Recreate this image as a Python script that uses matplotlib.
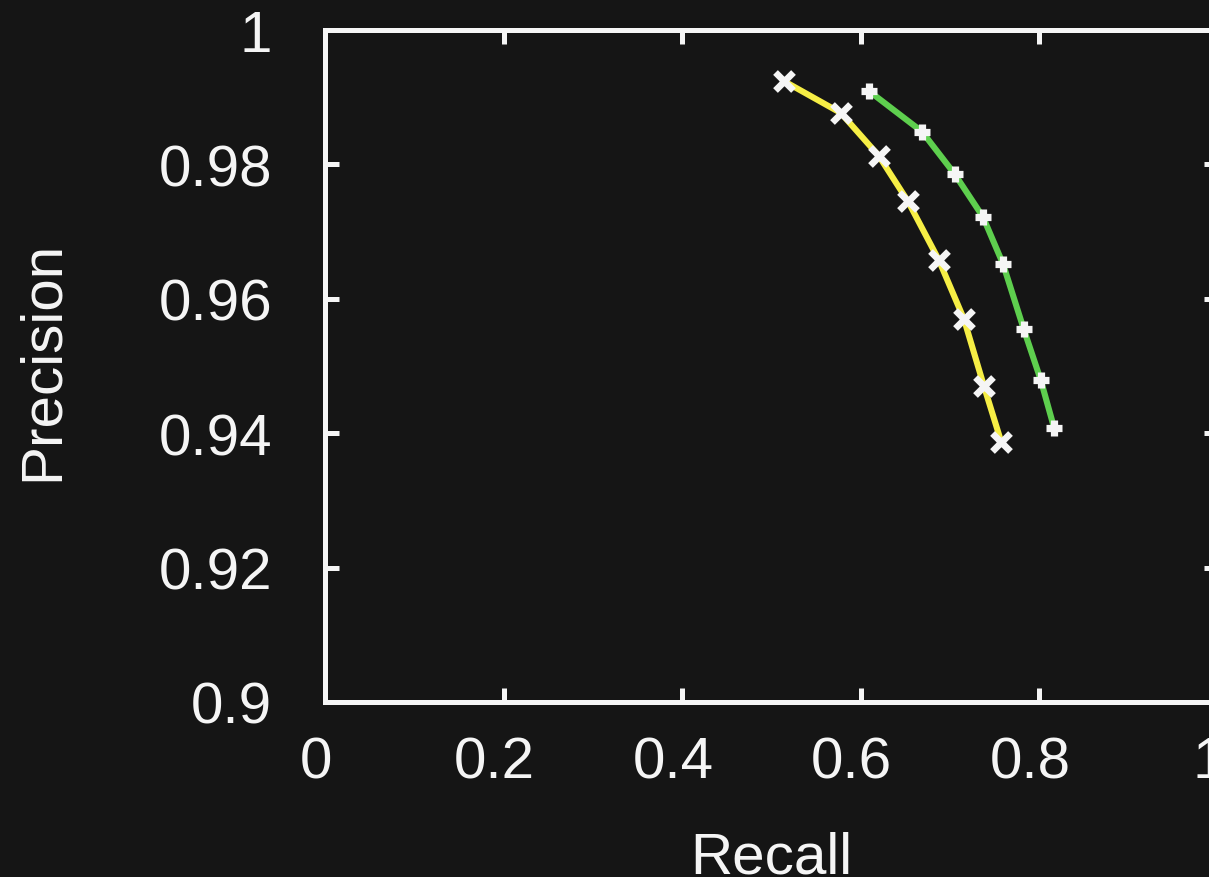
import matplotlib
matplotlib.use("Agg")
import matplotlib.pyplot as plt
from matplotlib.transforms import ScaledTranslation

# Data
recall_yellow = [0.5143, 0.5777, 0.6200, 0.6528, 0.6872, 0.7155, 0.7379, 0.7574]
precision_yellow = [0.99237, 0.98765, 0.98130, 0.97451, 0.96582, 0.95699, 0.94700, 0.93864]

recall_green = [0.6095, 0.6686, 0.7051, 0.7369, 0.7593, 0.7824, 0.8015, 0.8165]
precision_green = [0.99088, 0.98487, 0.97857, 0.97217, 0.96518, 0.95551, 0.94792, 0.94077]

xticks = [0, 0.2, 0.4, 0.6, 0.8, 1]
xticklabels = ["0", "0.2", "0.4", "0.6", "0.8", "1"]
yticks = [0.9, 0.92, 0.94, 0.96, 0.98, 1]
yticklabels = ["0.9", "0.92", "0.94", "0.96", "0.98", "1"]

BG = "#151515"
FG = "#f5f5f5"
YELLOW = "#f6ee45"
GREEN = "#5ecf4e"

plt.rcParams['font.family'] = ['Liberation Sans', 'DejaVu Sans']

W, H = 1209, 878
fig = plt.figure(figsize=(W / 100, H / 100), dpi=100, facecolor=BG)
left, right, top, bottom = 325, 1218, 31, 703
ax = fig.add_axes([left / W, 1 - bottom / H, (right - left) / W, (bottom - top) / H])
ax.set_facecolor(BG)

ax.plot(recall_yellow, precision_yellow, color=YELLOW, lw=4.4, zorder=2, clip_on=False)
ax.plot(recall_yellow, precision_yellow, ls='none', marker='x', ms=12.5, mew=4.8,
        color=FG, zorder=3, clip_on=False)
ax.plot(recall_green, precision_green, color=GREEN, lw=4.4, zorder=2, clip_on=False)
ax.plot(recall_green, precision_green, ls='none', marker='+', ms=11, mew=5.2,
        color=FG, zorder=3, clip_on=False)

ax.set_xlim(0, 1)
ax.set_ylim(0.9, 1)
ax.set_xticks(xticks)
ax.set_xticklabels(xticklabels)
ax.set_yticks(yticks)
ax.set_yticklabels(yticklabels)

for s in ax.spines.values():
    s.set_color(FG)
    s.set_linewidth(3.6)

ax.tick_params(axis='both', which='both', direction='in', length=10, width=3.6,
               color=FG, labelcolor=FG, labelsize=42, top=True, right=True)
ax.tick_params(axis='x', pad=24)
ax.tick_params(axis='y', pad=38)

shift = ScaledTranslation(-9 / 100, 0, fig.dpi_scale_trans)
for lab in ax.get_xticklabels():
    lab.set_transform(lab.get_transform() + shift)

ax.set_xlabel("Recall", fontsize=42, color=FG)
ax.set_ylabel("Precision", fontsize=42, color=FG)
ax.xaxis.label.set_va('baseline')
ax.xaxis.set_label_coords(0.5, (H - 873 - (H - bottom)) / (bottom - top))
ax.yaxis.label.set_va('baseline')
ax.yaxis.label.set_rotation_mode('anchor')
ax.yaxis.set_label_coords((58 - left) / (right - left), (H - 361 - (H - bottom)) / (bottom - top))

fig.savefig("out.png", dpi=100, facecolor=BG)
